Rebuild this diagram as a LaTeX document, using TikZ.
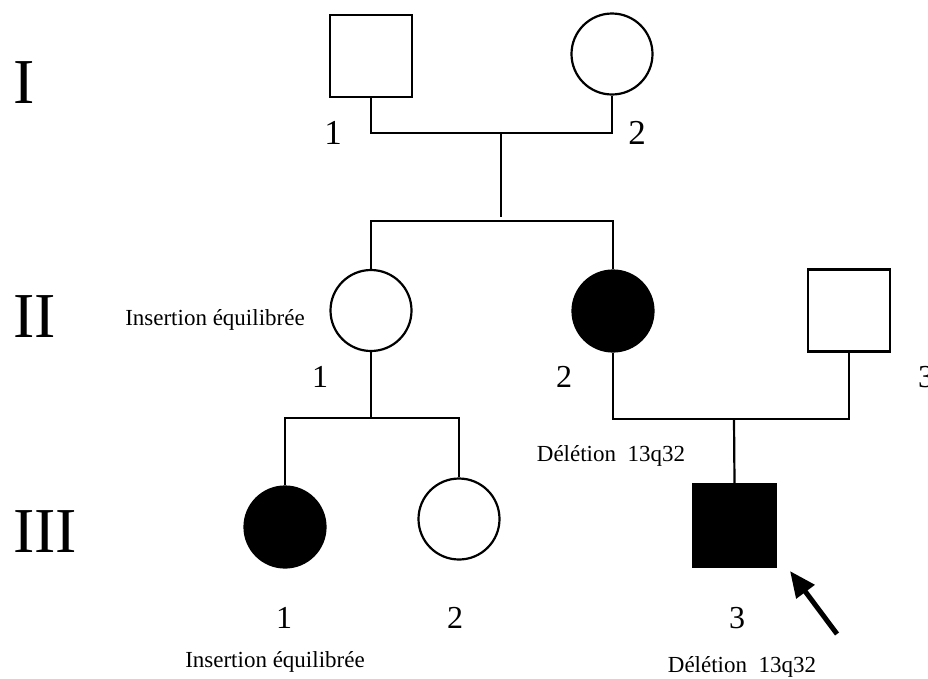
\documentclass[tikz,border=0pt]{standalone}
\usepackage{fontspec}
\setmainfont{Liberation Serif}
\usetikzlibrary{arrows.meta}
\begin{document}
\begin{tikzpicture}[x=1pt,y=-1pt,
  line width=2.2pt,
  male/.style={draw, rectangle, minimum size=82pt, inner sep=0pt},
  female/.style={draw, circle, minimum size=81pt, inner sep=0pt},
  affected/.style={fill=black},
  gen/.style={font=\fontsize{64}{64}\selectfont, anchor=base west, inner sep=0pt},
  idnumA/.style={font=\fontsize{35}{35}\selectfont, anchor=base, inner sep=0pt},
  idnum/.style={font=\fontsize{32}{32}\selectfont, anchor=base, inner sep=0pt},
  note/.style={font=\fontsize{23}{23}\selectfont, anchor=base, inner sep=0pt},
  proband/.style={line width=5pt, -{Triangle[length=26pt,width=22pt]}}
]
\useasboundingbox (0,0) rectangle (928,678);

% generation labels
\node[gen] (genI)   at (12,103) {I};
\node[gen] (genII)  at (12,337) {II};
\node[gen] (genIII) at (12,552) {III};

% generation I
\node[male]   (I1) at (371,56) {};
\node[female] (I2) at (612,54) {};
\node[idnumA] (nI1) at (333,144) {1};
\node[idnumA] (nI2) at (637,144) {2};

% generation II
\node[female]          (II1) at (371,310.5) {};
\node[female,affected] (II2) at (613,311) {};
\node[male]            (II3) at (849,310.5) {};
\node[idnum] (nII1) at (320,387) {1};
\node[idnum] (nII2) at (564,387) {2};
\node[idnum] (nII3) at (926,387) {3};
\node[note] (tII1) at (215,325) {Insertion équilibrée};
\node[note] (tII2) at (611,461) {Délétion~~13q32};

% generation III
\node[female,affected] (III1) at (285,527) {};
\node[female]          (III2) at (459,519) {};
\node[male,affected]   (III3) at (734.5,525.5) {};
\node[idnum] (nIII1) at (284,628) {1};
\node[idnum] (nIII2) at (455,628) {2};
\node[idnum] (nIII3) at (737,628) {3};
\node[note] (tIII1) at (275,667) {Insertion équilibrée};
\node[note] (tIII3) at (742,672) {Délétion~~13q32};

% junction points
\coordinate (m1) at (501,133);
\coordinate (s1) at (501,221);
\coordinate (m2) at (734,419);
\coordinate (s2) at (371,418);

% mating and descent lines
\draw (I1.south) |- (m1) -| (I2.south);
\draw (m1) -- ([yshift=4pt]s1);
\draw (II1.north) |- (s1) -| (II2.north);
\draw (II2.south) |- (m2) -| (II3.south);
\draw (m2) -- (III3.north);
\draw (II1.south) -- (s2);
\draw (III1.north) |- (s2) -| (III2.north);

% proband arrow
\coordinate (arrtail) at (837,634);
\coordinate (arrtip) at (790,571);
\draw[proband] (arrtail) -- (arrtip);
\end{tikzpicture}
\end{document}
